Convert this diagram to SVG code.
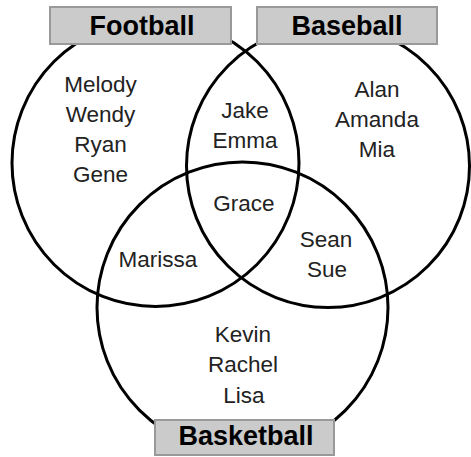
<svg xmlns="http://www.w3.org/2000/svg" width="471" height="457" viewBox="0 0 471 457">
<style>
.ring{fill:none;stroke:#000;stroke-width:3}
.box{fill:#cbcbcb;stroke:#999;stroke-width:2}
.title{font-family:"Liberation Sans",Arial,sans-serif;font-weight:bold;font-size:27px;fill:#000;text-anchor:middle}
.name{font-family:"Liberation Sans",Arial,sans-serif;font-size:22.5px;fill:#222;text-anchor:middle}
</style>
<rect width="471" height="457" fill="#fff"/>
<g id="football">
<circle class="ring" cx="155.5" cy="163" r="143.5"/>
<rect class="box" x="50" y="7" width="181" height="37"/>
<text class="title" x="142" y="35">Football</text>
</g>
<g id="baseball">
<circle class="ring" cx="328" cy="166" r="141.5"/>
<rect class="box" x="257" y="7" width="180" height="37"/>
<text class="title" x="347" y="35">Baseball</text>
</g>
<g id="basketball">
<circle class="ring" cx="242.5" cy="307.5" r="145.5"/>
<rect class="box" x="155" y="420" width="179" height="35"/>
<text class="title" x="246" y="445">Basketball</text>
</g>
<g id="members">
<text class="name" x="100.5" y="92">Melody</text>
<text class="name" x="100.5" y="122">Wendy</text>
<text class="name" x="100.5" y="152">Ryan</text>
<text class="name" x="100.5" y="182">Gene</text>
<text class="name" x="377" y="97">Alan</text>
<text class="name" x="377" y="127">Amanda</text>
<text class="name" x="377" y="157">Mia</text>
<text class="name" x="245" y="118">Jake</text>
<text class="name" x="245" y="148">Emma</text>
<text class="name" x="244" y="211">Grace</text>
<text class="name" x="158" y="267">Marissa</text>
<text class="name" x="326" y="247">Sean</text>
<text class="name" x="327" y="277">Sue</text>
<text class="name" x="243" y="342">Kevin</text>
<text class="name" x="243" y="372">Rachel</text>
<text class="name" x="244" y="403">Lisa</text>
</g>
</svg>
